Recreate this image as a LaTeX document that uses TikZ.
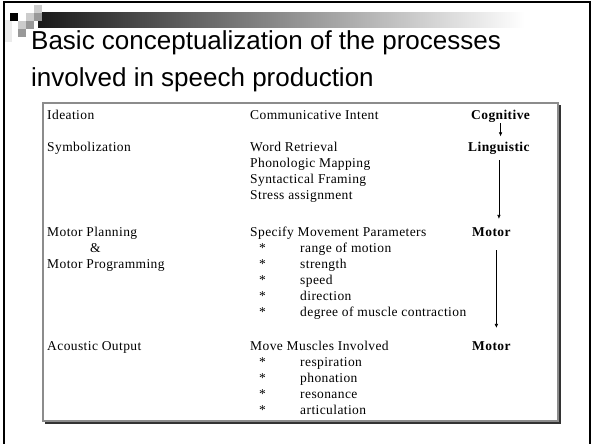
\documentclass[tikz,border=0pt]{standalone}
\usepackage{fontspec}
\setmainfont{Liberation Serif}[LetterSpace=3]
\newfontfamily\titlefont{Liberation Sans}
\usepackage{tikz}
\usetikzlibrary{arrows.meta}
\tikzset{
  slidetitle/.style={anchor=base west, inner sep=0pt, font=\titlefont\fontsize{26}{36}\selectfont},
  rowlabel/.style={anchor=base west, inner sep=0pt, font=\fontsize{13.5}{16}\selectfont},
  celltext/.style={anchor=base west, inner sep=0pt, font=\fontsize{13.5}{16}\selectfont},
  bulletstar/.style={anchor=base west, inner sep=0pt, font=\fontsize{13.5}{16}\selectfont},
  levellabel/.style={anchor=base west, inner sep=0pt, font=\bfseries\fontsize{13.5}{16}\selectfont},
  levelarrow/.style={-{Latex[length=4pt,width=3.5pt]}, line width=0.6pt},
  tableframe/.style={draw=black!45, line width=1.4pt},
  tableshadow/.style={draw=black!80, line width=2pt},
  decosquare/.style={fill=#1, draw=none}
}
\begin{document}
\begin{tikzpicture}[x=1pt, y=-1pt]
\useasboundingbox (0,0) rectangle (592,444);
\draw[line width=2pt] (4,444) -- (4,2.5) -- (590,2.5) -- (590,444);
\shade[left color=black!90, right color=white, draw=none] (38,13) rectangle (525,28);
\fill[decosquare=black!8] (5,20) rectangle (12,42);
\fill[decosquare=black] (10,13) rectangle (18,21);
\fill[decosquare=black!20] (26,13) rectangle (34,21);
\fill[decosquare=black!20] (34,5) rectangle (42,13);
\fill[decosquare=black!40] (34,13) rectangle (42,21);
\fill[decosquare=black!20] (18,21) rectangle (26,29);
\fill[decosquare=black!40] (26,21) rectangle (34,29);
\fill[decosquare=black!40] (18,29) rectangle (26,37);

\node[slidetitle] (title1) at (31,50) {Basic conceptualization of the processes};
\node[slidetitle] (title2) at (31,86) {involved in speech production};

\draw[tableshadow] (45,423) -- (560,423) -- (560,105);
\draw[tableframe] (43,103) rectangle (558,421);

\node[rowlabel] (ideation) at (47,119) {Ideation};
\node[rowlabel] (symbolization) at (47,151) {Symbolization};
\node[rowlabel] (planning) at (47,236) {Motor Planning};
\node[rowlabel] (amp) at (90,252) {\&};
\node[rowlabel] (programming) at (47,268) {Motor Programming};
\node[rowlabel] (output) at (47,350) {Acoustic Output};

\node[celltext] (intent) at (250,119) {Communicative Intent};
\node[celltext] (retrieval) at (250,151) {Word Retrieval};
\node[celltext] (mapping) at (250,167) {Phonologic Mapping};
\node[celltext] (framing) at (250,183) {Syntactical Framing};
\node[celltext] (stress) at (250,199) {Stress assignment};
\node[celltext] (specify) at (250,236) {Specify Movement Parameters};
\node[celltext] (move) at (250,350) {Move Muscles Involved};
\foreach \y/\name/\txt in {252/range/range of motion, 268/strength/strength, 284/speed/speed,
  300/direction/direction, 316/degree/degree of muscle contraction,
  366/respiration/respiration, 382/phonation/phonation, 398/resonance/resonance,
  414/articulation/articulation}
{
  \node[bulletstar] (star\name) at (259,\y) {*};
  \node[celltext] (\name) at (300,\y) {\txt};
}

\node[levellabel] (cognitive) at (471,119) {Cognitive};
\node[levellabel] (linguistic) at (468,151) {Linguistic};
\node[levellabel] (motorA) at (472,236) {Motor};
\node[levellabel] (motorB) at (472,350) {Motor};

\draw[levelarrow, shorten <=1pt, shorten >=5pt] (cognitive.south) -- (cognitive.south |- linguistic.north);
\draw[levelarrow, shorten <=6pt, shorten >=8pt] (linguistic.south) -- (linguistic.south |- motorA.north);
\draw[levelarrow, shorten <=14pt, shorten >=13pt] ([xshift=5pt]motorA.south) -- ([xshift=5pt]motorA.south |- motorB.north);
\end{tikzpicture}
\end{document}
